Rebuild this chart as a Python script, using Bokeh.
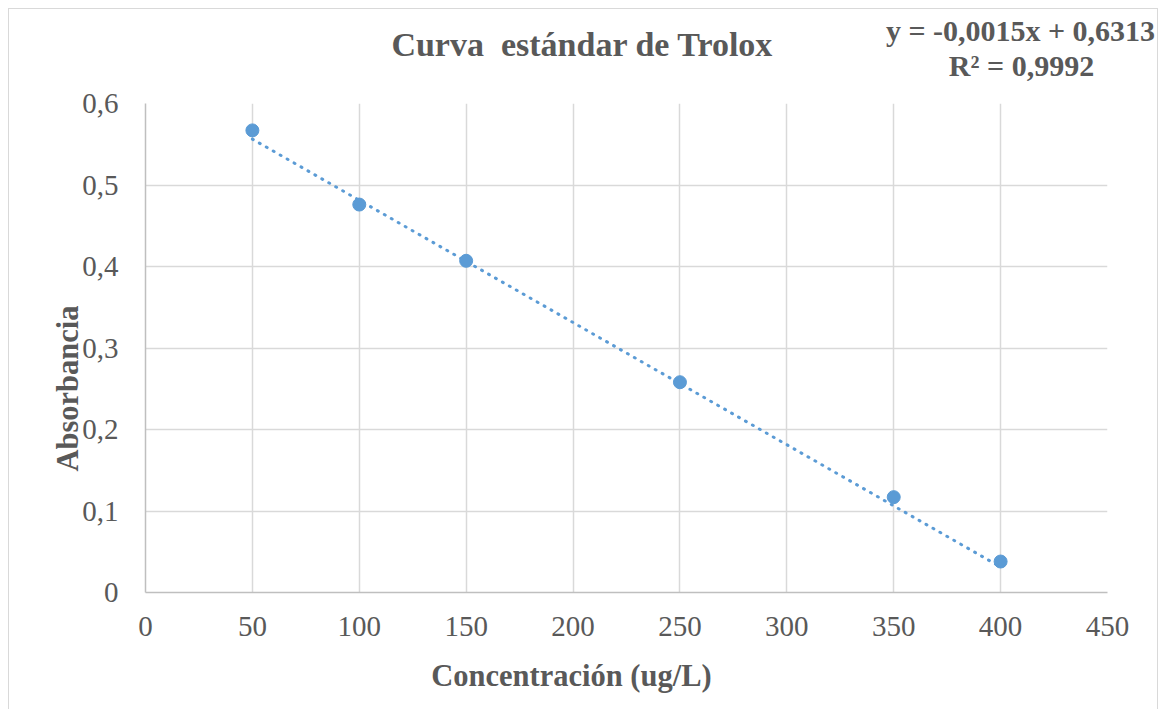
from bokeh.plotting import figure
from bokeh.models import Label, FixedTicker, CustomJSTickFormatter, Range1d
from bokeh.layouts import column
from bokeh.embed import file_html
from bokeh.resources import INLINE
import math

# Data
concentracion = [50, 100, 150, 250, 350, 400]
absorbancia = [0.567, 0.476, 0.407, 0.258, 0.117, 0.038]
slope = -0.0015
intercept = 0.6313
x_ticks = [0, 50, 100, 150, 200, 250, 300, 350, 400, 450]
y_ticks = [0, 0.1, 0.2, 0.3, 0.4, 0.5, 0.6]
title_text = "Curva \u00a0estándar de Trolox"
eq_text = "y = -0,0015x + 0,6313"
r2_text = "R² = 0,9992"
x_label = "Concentración (ug/L)"
y_label = "Absorbancia"

FONT = "Liberation Serif"
GREY = "#595959"
BLUE = "#5b9bd5"

W, H = 1150, 709
p = figure(width=W, height=H, output_backend="svg", toolbar_location=None,
           x_range=Range1d(0, 450), y_range=Range1d(0, 0.6),
           min_border_left=137, min_border_right=51, min_border_top=95, min_border_bottom=117)
line_bg = "linear-gradient(#d9d9d9, #d9d9d9)"
p.styles = {"background": f"{line_bg} 0 8px / 100% 1px no-repeat, "
                          f"{line_bg} 0 8px / 1px 100% no-repeat, "
                          f"{line_bg} 100% 8px / 1px 100% no-repeat"}
p.border_fill_color = None
p.background_fill_color = "white"
p.outline_line_color = None

p.xaxis.ticker = FixedTicker(ticks=x_ticks)
p.yaxis.ticker = FixedTicker(ticks=y_ticks)
p.yaxis.formatter = CustomJSTickFormatter(code="return tick === 0 ? '0' : tick.toFixed(1).replace('.', ',');")
for ax in (p.xaxis[0], p.yaxis[0]):
    ax.major_tick_line_color = None
    ax.minor_tick_line_color = None
    ax.major_label_text_font = FONT
    ax.major_label_text_font_size = "29px"
    ax.major_label_text_color = GREY
    ax.axis_line_color = "#bfbfbf"
    ax.axis_line_width = 1.5
p.xaxis.major_label_standoff = 18
p.yaxis.major_label_standoff = 21

p.xgrid.grid_line_color = "#d9d9d9"
p.ygrid.grid_line_color = "#d9d9d9"
p.xgrid.grid_line_width = 1.5
p.ygrid.grid_line_width = 1.5

# Trendline from displayed equation
x0, x1 = min(concentracion), max(concentracion)
p.line([x0, x1], [slope * x0 + intercept, slope * x1 + intercept],
       line_color=BLUE, line_width=3, line_dash="1 7", line_cap="round")

p.scatter(concentracion, absorbancia, size=13, fill_color=BLUE, line_color=BLUE)

def lab(text, x, y, size, side, angle=0):
    p.add_layout(Label(x=x, y=y, x_units="canvas", y_units="canvas", text=text,
                       text_font=FONT, text_font_size=size, text_font_style="bold",
                       text_color=GREY, text_align="center", text_baseline="middle",
                       text_line_height=1.0, angle=angle), side)

# canvas pixel positions (canvas starts at page x=8, y=0)
lab(title_text, 574, 44, "34px", "above")
lab(eq_text, 1012, 30, "30px", "above")
lab(r2_text, 1013, 65, "30px", "above")
lab(y_label, 59, 388, "30.5px", "left", angle=math.pi / 2)
lab(x_label, 563, 675, "30.5px", "below")

root = column(p, styles={"padding-left": "8px"})
open("out.html", "w").write(file_html(root, INLINE))
